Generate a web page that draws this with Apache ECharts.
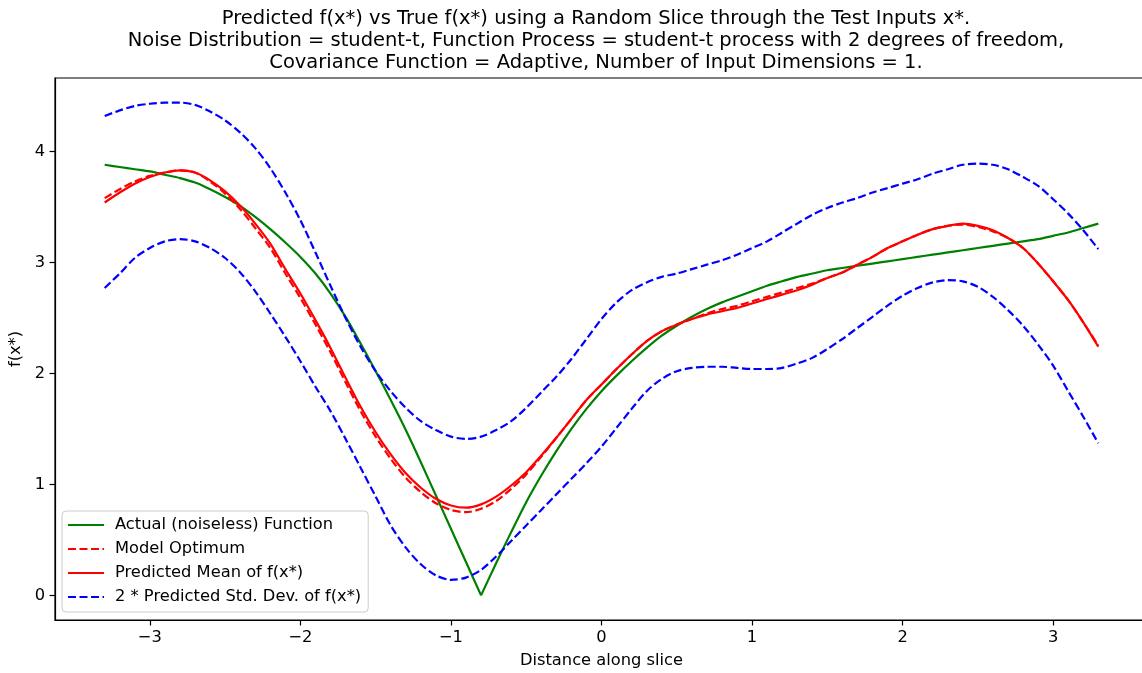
<!DOCTYPE html>
<html>
<head>
<meta charset="utf-8">
<script src="https://cdn.jsdelivr.net/npm/echarts@6/dist/echarts.min.js"></script>
<style>
html,body{margin:0;padding:0;background:#fff;}
#chart{width:1142px;height:673px;}
</style>
</head>
<body>
<div id="chart"></div>
<script>
const titleText = 'Predicted f(x*) vs True f(x*) using a Random Slice through the Test Inputs x*.\nNoise Distribution = student-t, Function Process = student-t process with 2 degrees of freedom,\nCovariance Function = Adaptive, Number of Input Dimensions = 1.';
const xAxisName = 'Distance along slice';
const yAxisName = 'f(x*)';
const xTicks = [-3, -2, -1, 0, 1, 2, 3];
const yTicks = [0, 1, 2, 3, 4];
const seriesNames = ['Actual (noiseless) Function', 'Model Optimum', 'Predicted Mean of f(x*)', '2 * Predicted Std. Dev. of f(x*)'];

const xs = [-3.3,-3.2,-3.1,-3.0,-2.9,-2.8,-2.7,-2.6,-2.5,-2.4,-2.3,-2.2,-2.1,-2.0,-1.9,-1.8,-1.7,-1.6,-1.5,-1.4,-1.3,-1.2,-1.1,-1.0,-0.9,-0.8,-0.7,-0.6,-0.5,-0.4,-0.3,-0.2,-0.1,0.0,0.1,0.2,0.3,0.4,0.5,0.6,0.7,0.8,0.9,1.0,1.1,1.2,1.3,1.4,1.5,1.6,1.7,1.8,1.9,2.0,2.1,2.2,2.3,2.4,2.5,2.6,2.7,2.8,2.9,3.0,3.1,3.2,3.3];

// index of the kink (minimum) of the actual function, x = -0.8
const kinkIndex = 25;

const actual = [3.88,3.86,3.84,3.82,3.79,3.76,3.72,3.66,3.59,3.51,3.41,3.30,3.18,3.05,2.90,2.72,2.51,2.27,2.02,1.76,1.49,1.20,0.90,0.60,0.30,0.00,0.29,0.57,0.84,1.08,1.30,1.50,1.68,1.84,1.98,2.11,2.23,2.34,2.43,2.51,2.58,2.64,2.69,2.74,2.79,2.83,2.87,2.90,2.93,2.95,2.97,2.99,3.01,3.03,3.05,3.07,3.09,3.11,3.13,3.15,3.17,3.19,3.21,3.24,3.27,3.31,3.35];

const optimum = [3.58,3.66,3.73,3.78,3.81,3.83,3.81,3.73,3.62,3.48,3.31,3.13,2.90,2.68,2.44,2.19,1.92,1.66,1.43,1.23,1.06,0.93,0.83,0.77,0.75,0.78,0.85,0.96,1.09,1.25,1.42,1.59,1.76,1.90,2.04,2.17,2.29,2.38,2.44,2.49,2.54,2.58,2.61,2.65,2.69,2.73,2.77,2.81,2.86,2.91,2.98,3.05,3.13,3.19,3.25,3.30,3.33,3.34,3.32,3.28,3.22,3.13,2.99,2.83,2.66,2.46,2.25];

const mean = [3.54,3.63,3.71,3.77,3.81,3.83,3.81,3.74,3.64,3.51,3.35,3.17,2.94,2.72,2.48,2.23,1.96,1.70,1.47,1.27,1.10,0.97,0.87,0.81,0.79,0.82,0.89,0.99,1.11,1.26,1.42,1.59,1.76,1.90,2.04,2.17,2.29,2.38,2.44,2.49,2.53,2.56,2.59,2.63,2.67,2.71,2.75,2.80,2.86,2.91,2.98,3.05,3.13,3.19,3.25,3.30,3.33,3.35,3.33,3.29,3.22,3.13,2.99,2.83,2.66,2.46,2.24];

const upper = [4.32,4.37,4.41,4.43,4.44,4.44,4.42,4.36,4.28,4.17,4.03,3.85,3.63,3.38,3.09,2.79,2.50,2.24,2.02,1.84,1.69,1.57,1.49,1.43,1.41,1.43,1.49,1.57,1.69,1.83,1.97,2.13,2.31,2.49,2.64,2.75,2.82,2.87,2.90,2.94,2.98,3.02,3.07,3.13,3.19,3.27,3.35,3.43,3.49,3.54,3.58,3.63,3.67,3.71,3.75,3.80,3.84,3.88,3.89,3.88,3.84,3.77,3.69,3.57,3.44,3.29,3.12];

const lower = [2.77,2.90,3.04,3.13,3.19,3.21,3.19,3.13,3.04,2.91,2.74,2.54,2.33,2.11,1.88,1.66,1.41,1.15,0.89,0.63,0.43,0.28,0.18,0.14,0.16,0.23,0.35,0.49,0.63,0.77,0.91,1.05,1.19,1.34,1.51,1.68,1.84,1.95,2.02,2.05,2.06,2.06,2.05,2.04,2.04,2.05,2.09,2.14,2.22,2.31,2.41,2.51,2.61,2.70,2.77,2.82,2.84,2.83,2.78,2.69,2.57,2.43,2.26,2.07,1.84,1.61,1.37];

function pairs(ys){ return xs.map((x,i)=>[x, ys[i]]); }
const FONT = 'DejaVu Sans';
const dash = [8, 3.5];
const LW = 2.2;
const actualPairs = pairs(actual);

const chart = echarts.init(document.getElementById('chart'), null, {renderer:'canvas'});
chart.setOption({
  animation: false,
  backgroundColor: '#fff',
  title: {
    text: titleText,
    left: 591,
    top: 3,
    textAlign: 'center',
    textStyle: {fontFamily: FONT, fontSize: 19.5, fontWeight: 'normal', color: '#000', lineHeight: 22}
  },
  grid: {left: 55, right: -6, top: 78, bottom: 53, show: true, borderColor: '#000', borderWidth: 1.2,
    outerBoundsMode: 'none', containLabel: false},
  legend: {
    orient: 'vertical',
    left: 62, top: 511,
    padding: [6, 7, 7, 5],
    itemWidth: 36, itemHeight: 16, itemGap: 8,
    backgroundColor: 'rgba(255,255,255,0.8)',
    borderColor: '#cccccc', borderWidth: 1, borderRadius: 4,
    itemStyle: {opacity: 0},
    textStyle: {fontFamily: FONT, fontSize: 16.3, color: '#000', padding: [0,0,0,6]},
    data: seriesNames
  },
  xAxis: {
    type: 'value', min: -3.63, max: 3.63,
    name: xAxisName, nameLocation: 'middle', nameGap: 33,
    nameTextStyle: {fontFamily: FONT, fontSize: 16.3, color: '#000'},
    axisLine: {show: true, onZero: false, lineStyle: {color: '#000', width: 1.2}},
    axisTick: {show: true, length: 5.5, inside: false, customValues: xTicks, lineStyle: {color: '#000', width: 1.2}},
    axisLabel: {fontFamily: FONT, fontSize: 16.3, color: '#000', margin: 10, customValues: xTicks,
      formatter: v => (v < 0 ? '\u2212' + Math.abs(v) : String(v))},
    splitLine: {show: false}
  },
  yAxis: {
    type: 'value', min: -0.222, max: 4.662,
    name: yAxisName, nameLocation: 'middle', nameGap: 27, nameRotate: 90,
    nameTextStyle: {fontFamily: FONT, fontSize: 16.3, color: '#000'},
    axisLine: {show: true, onZero: false, lineStyle: {color: '#000', width: 1.2}},
    axisTick: {show: true, length: 5.5, inside: false, customValues: yTicks, lineStyle: {color: '#000', width: 1.2}},
    axisLabel: {fontFamily: FONT, fontSize: 16.3, color: '#000', margin: 10, customValues: yTicks},
    splitLine: {show: false}
  },
  series: [
    {name: seriesNames[0], type: 'line', data: actualPairs.slice(0, kinkIndex + 1), symbol: 'none', smooth: 0.3,
      lineStyle: {color: '#008000', width: LW}, itemStyle: {color: '#008000'}},
    {name: seriesNames[0], type: 'line', data: actualPairs.slice(kinkIndex), symbol: 'none', smooth: 0.3,
      lineStyle: {color: '#008000', width: LW}, itemStyle: {color: '#008000'}},
    {name: seriesNames[1], type: 'line', data: pairs(optimum), symbol: 'none', smooth: 0.3,
      lineStyle: {color: '#ff0000', width: LW, type: dash}, itemStyle: {color: '#ff0000'}},
    {name: seriesNames[2], type: 'line', data: pairs(mean), symbol: 'none', smooth: 0.3,
      lineStyle: {color: '#ff0000', width: LW}, itemStyle: {color: '#ff0000'}},
    {name: seriesNames[3], type: 'line', data: pairs(upper), symbol: 'none', smooth: 0.3,
      lineStyle: {color: '#0000ff', width: LW, type: dash}, itemStyle: {color: '#0000ff'}},
    {name: seriesNames[3], type: 'line', data: pairs(lower), symbol: 'none', smooth: 0.3,
      lineStyle: {color: '#0000ff', width: LW, type: dash}, itemStyle: {color: '#0000ff'}}
  ]
});
</script>
</body>
</html>
